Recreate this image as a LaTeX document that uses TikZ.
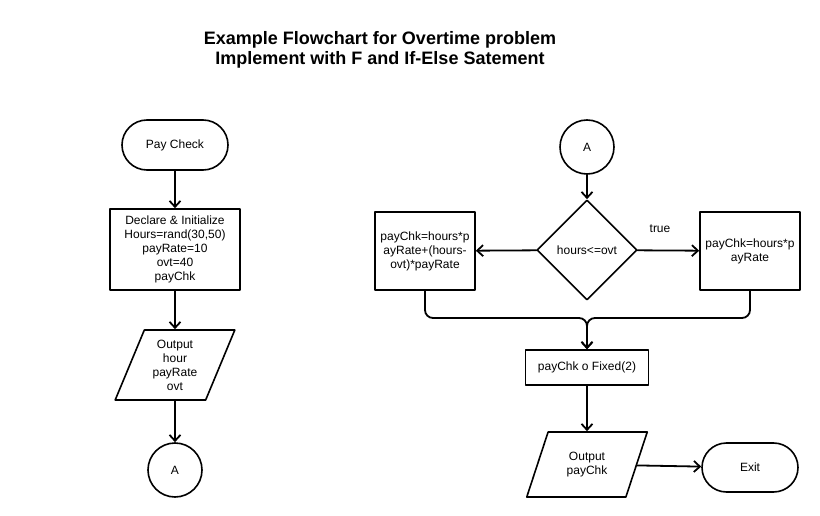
\documentclass[tikz,border=0pt]{standalone}
\usepackage{fontspec}
\setmainfont{Liberation Sans}
\usetikzlibrary{shapes.geometric,shapes.misc,arrows.meta}
\tikzset{
  base/.style={draw,line width=1.6pt,align=center,inner sep=2pt,font=\fontsize{12}{14}\selectfont},
  term/.style={base,rounded rectangle,minimum width=110,minimum height=50},
  proc/.style={base,rectangle},
  io/.style={base,trapezium,trapezium left angle=67,trapezium right angle=113,trapezium stretches=true},
  decide/.style={base,diamond,minimum width=100,minimum height=100,inner sep=0pt},
  conn/.style={base,circle,minimum size=54},
  flow/.style={->,line width=1.8pt}
}
\begin{document}
\begin{tikzpicture}[line cap=round,line join=round,>={Straight Barb[length=6pt,width=11pt]},x=1pt,y=-1pt]
	\useasboundingbox[fill=white] (0,0) rectangle (820,516);
	\node[font=\fontsize{18}{20.5}\selectfont\bfseries,align=center] (title) at (380,50) {Example Flowchart for Overtime problem\\Implement with F and If-Else Satement};
	\node[term] (start) at (175,145) {Pay Check};
	\node[proc,minimum width=130,minimum height=81] (init) at (175,249.5) {Declare \& Initialize\\Hours=rand(30,50)\\payRate=10\\ovt=40\\payChk};
	\node[io,minimum width=120,minimum height=70] (out1) at (175,365) {Output\\hour\\payRate\\ovt};
	\node[conn] (a1) at (175,470) {A};
	\node[conn] (a2) at (587,147) {A};
	\node[decide] (test) at (587,250) {hours<=ovt};
	\node[proc,minimum width=100,minimum height=78] (over) at (425,251) {payChk=hours*p\\ayRate+(hours-\\ovt)*payRate};
	\node[proc,minimum width=100,minimum height=78] (normal) at (750,251) {payChk=hours*p\\ayRate};
	\node[font=\fontsize{12}{14}\selectfont] (true) at (660,229) {true};
	\coordinate (merge) at (587,318);
	\node[proc,minimum width=123,minimum height=35] (fix) at (587,367.5) {payChk o Fixed(2)};
	\node[io,minimum width=121,minimum height=65] (out2) at (587,464.5) {Output\\payChk};
	\node[term,minimum width=100,minimum height=49] (exit) at (750,467.5) {Exit};
	\draw[flow] (start) -- (init);
	\draw[flow] (init) -- (out1);
	\draw[flow] (out1) -- (a1);
	\draw[flow] (a2) -- (test);
	\draw[flow] (test) -- (over);
	\draw[flow] (test) -- (normal);
	\draw[flow,rounded corners=8pt] (over.south) |- (merge) -- (fix.north);
	\draw[flow,rounded corners=8pt] (normal.south) |- (merge) -- (fix.north);
	\draw[flow] (fix) -- (out2);
	\draw[flow] (out2) -- (exit);
\end{tikzpicture}
\end{document}
